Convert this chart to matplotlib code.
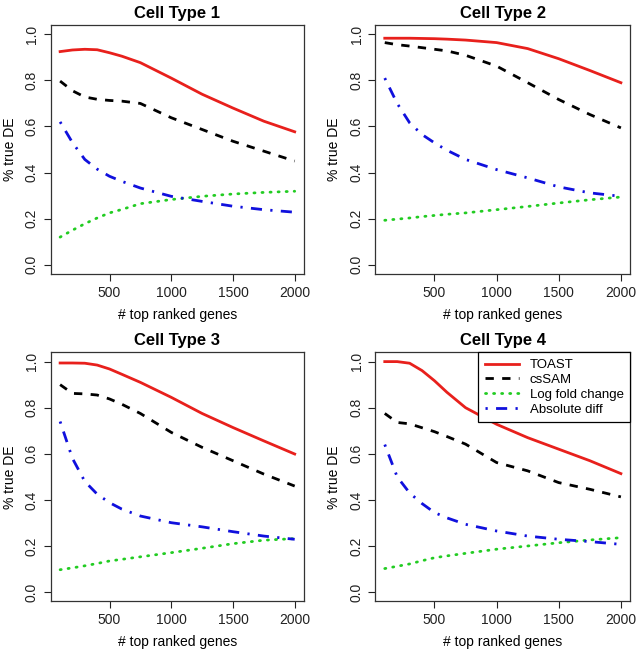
import matplotlib
matplotlib.use('Agg')
import matplotlib.pyplot as plt

plt.rcParams['font.family'] = ['Liberation Sans', 'DejaVu Sans']

# number of top ranked genes at which curves were read
genes = [100, 200, 300, 400, 500, 600, 750, 1000, 1250, 1500, 1750, 2000]

titles = ['Cell Type 1', 'Cell Type 2', 'Cell Type 3', 'Cell Type 4']
methods = ['TOAST', 'csSAM', 'Log fold change', 'Absolute diff']

# % true DE per cell type
toast = [
    [0.925, 0.932, 0.935, 0.933, 0.920, 0.905, 0.877, 0.810, 0.740, 0.680, 0.623, 0.577],
    [0.983, 0.983, 0.983, 0.982, 0.981, 0.979, 0.975, 0.964, 0.938, 0.894, 0.843, 0.790],
    [0.994, 0.994, 0.993, 0.985, 0.968, 0.945, 0.910, 0.845, 0.775, 0.714, 0.656, 0.599],
    [1.000, 1.000, 0.993, 0.961, 0.917, 0.867, 0.800, 0.728, 0.670, 0.620, 0.570, 0.514],
]
cssam = [
    [0.797, 0.755, 0.728, 0.718, 0.713, 0.710, 0.700, 0.638, 0.587, 0.536, 0.493, 0.450],
    [0.964, 0.955, 0.949, 0.942, 0.935, 0.928, 0.909, 0.862, 0.790, 0.717, 0.652, 0.594],
    [0.900, 0.862, 0.860, 0.855, 0.838, 0.815, 0.775, 0.693, 0.628, 0.570, 0.512, 0.460],
    [0.775, 0.736, 0.730, 0.713, 0.696, 0.675, 0.642, 0.562, 0.526, 0.475, 0.446, 0.413],
]
logfc = [
    [0.120, 0.150, 0.178, 0.203, 0.225, 0.240, 0.265, 0.283, 0.297, 0.307, 0.314, 0.319],
    [0.193, 0.198, 0.203, 0.209, 0.214, 0.219, 0.225, 0.239, 0.253, 0.268, 0.282, 0.294],
    [0.097, 0.105, 0.114, 0.124, 0.135, 0.142, 0.153, 0.171, 0.190, 0.210, 0.225, 0.232],
    [0.102, 0.112, 0.122, 0.136, 0.149, 0.157, 0.168, 0.186, 0.200, 0.214, 0.226, 0.236],
]
absdiff = [
    [0.620, 0.530, 0.457, 0.415, 0.384, 0.362, 0.333, 0.297, 0.275, 0.254, 0.239, 0.228],
    [0.810, 0.700, 0.616, 0.565, 0.529, 0.497, 0.457, 0.413, 0.377, 0.338, 0.312, 0.297],
    [0.740, 0.580, 0.480, 0.425, 0.388, 0.360, 0.330, 0.301, 0.283, 0.262, 0.243, 0.229],
    [0.640, 0.500, 0.430, 0.384, 0.345, 0.322, 0.294, 0.265, 0.243, 0.229, 0.219, 0.207],
]

fig = plt.figure(figsize=(6.43, 6.55), dpi=100)

# axes boxes [left, bottom, width, height] in figure fractions
boxes = [
    [0.0789, 0.5817, 0.394, 0.380],
    [0.5837, 0.5817, 0.3966, 0.380],
    [0.0789, 0.0820, 0.394, 0.380],
    [0.5837, 0.0820, 0.3966, 0.380],
]

for i in range(4):
    ax = fig.add_axes(boxes[i])
    ax.plot(genes, toast[i], color='#e8201c', lw=2, ls='-', label=methods[0])
    ax.plot(genes, cssam[i], color='black', lw=2, ls=(0, (3, 3)), label=methods[1])
    ax.plot(genes, logfc[i], color='#22cc22', lw=2, ls=(0, (0.4, 2.5)),
            dash_capstyle='round', label=methods[2])
    ax.plot(genes, absdiff[i], color='#1010dd', lw=2, ls=(0, (0.8, 3, 4, 3)), label=methods[3])

    ax.set_xlim(24, 2076)
    ax.set_ylim(-0.04, 1.04)
    ax.set_xticks([500, 1000, 1500, 2000])
    ax.set_yticks([0.0, 0.2, 0.4, 0.6, 0.8, 1.0])
    ax.set_yticklabels(['0.0', '0.2', '0.4', '0.6', '0.8', '1.0'], rotation=90, va='center')
    ax.tick_params(direction='out', length=5, width=0.8, labelsize=10, colors='#222222')
    ax.set_xlabel('# top ranked genes', fontsize=10, labelpad=6)
    ax.set_ylabel('% true DE', fontsize=10, labelpad=6)
    ax.set_title(titles[i], fontsize=12, fontweight='bold', pad=5)
    for s in ax.spines.values():
        s.set_linewidth(0.9)
        s.set_color('#333333')

    if i == 3:
        leg = ax.legend(loc='upper right', borderaxespad=0, fancybox=False,
                        edgecolor='black', fontsize=9.5, handlelength=2.6,
                        labelspacing=0.2, borderpad=0.5, framealpha=1)
        leg.get_frame().set_linewidth(0.9)

fig.savefig('out.png', dpi=100)
